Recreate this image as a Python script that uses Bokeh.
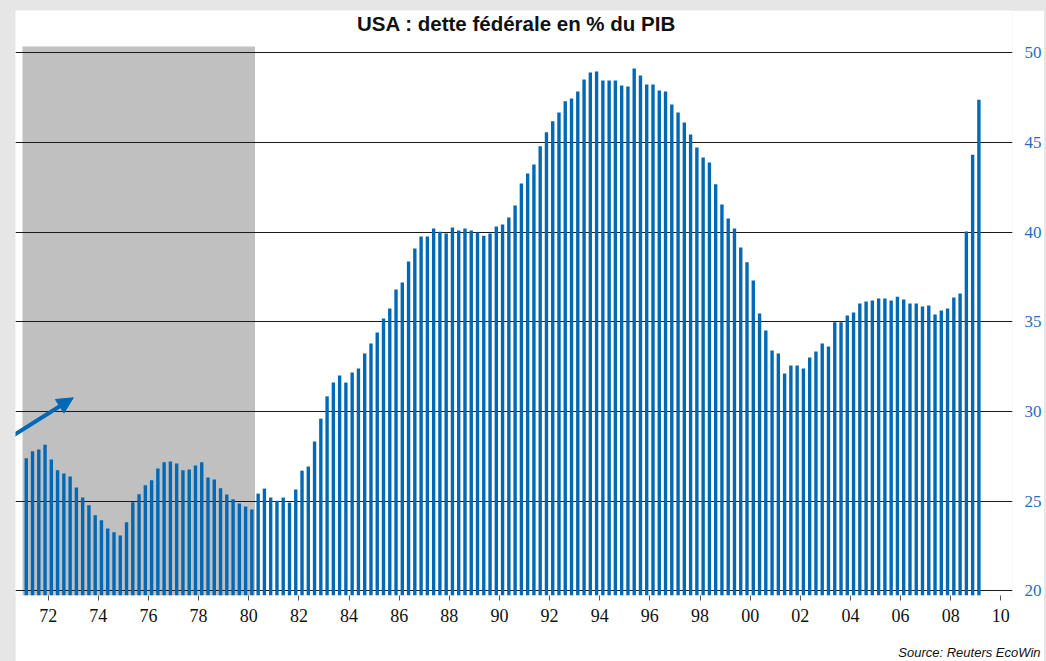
from bokeh.plotting import figure
from bokeh.models import (FixedTicker, Arrow, NormalHead, BoxAnnotation, Title, Label,
                          GlobalInlineStyleSheet, Range1d)
from bokeh.embed import file_html
from bokeh.resources import INLINE

# ---------------- data (quarterly, 1971Q1 .. 2009Q1) ----------------
start_year = 1971
debt_pct = [
    27.39, 27.78, 27.88, 28.15, 27.32, 26.72, 26.54, 26.37,   # 1971-72
    25.76, 25.20, 24.77, 24.21, 23.93, 23.48, 23.26, 23.09,   # 1973-74
    23.82, 24.94, 25.38, 25.88, 26.17, 26.82, 27.17, 27.21,   # 1975-76
    27.10, 26.72, 26.76, 26.98, 27.17, 26.32, 26.21, 25.72,   # 1977-78
    25.37, 25.11, 24.87, 24.70, 24.53, 25.42, 25.70, 25.20,   # 1979-80
    25.02, 25.20, 24.92, 25.65, 26.70, 26.93, 28.32, 29.60,   # 1981-82
    30.84, 31.61, 32.00, 31.61, 32.17, 32.39, 33.23, 33.79,   # 1983-84
    34.40, 35.18, 35.74, 36.80, 37.19, 38.36, 39.08, 39.75,   # 1985-86
    39.75, 40.20, 40.01, 39.92, 40.25, 40.08, 40.20, 40.08,   # 1987-88
    39.97, 39.80, 39.92, 40.31, 40.42, 40.81, 41.48, 42.71,   # 1989-90
    43.27, 43.77, 44.78, 45.56, 46.17, 46.67, 47.29, 47.45,   # 1991-92
    47.84, 48.51, 48.89, 48.95, 48.45, 48.45, 48.45, 48.17,   # 1993-94
    48.11, 49.11, 48.72, 48.22, 48.22, 47.89, 47.84, 47.11,   # 1995-96
    46.67, 46.11, 45.44, 44.72, 44.16, 43.88, 42.66, 41.54,   # 1997-98
    40.76, 40.20, 39.14, 38.31, 37.30, 35.46, 34.51, 33.40,   # 1999-00
    33.23, 32.12, 32.56, 32.56, 32.39, 33.01, 33.34, 33.79,   # 2001-02
    33.62, 34.97, 34.97, 35.35, 35.51, 36.02, 36.13, 36.18,   # 2003-04
    36.30, 36.30, 36.18, 36.40, 36.24, 36.02, 36.02, 35.85,   # 2005-06
    35.91, 35.40, 35.62, 35.74, 36.35, 36.57, 40.03, 44.31,   # 2007-08
    47.38,                                                    # 2009Q1
]
tick_years = list(range(1972, 2011, 2))
tick_labels = ["72", "74", "76", "78", "80", "82", "84", "86", "88", "90",
               "92", "94", "96", "98", "00", "02", "04", "06", "08", "10"]
y_ticks = [20, 25, 30, 35, 40, 45, 50]
shade_start, shade_end, shade_top = 1970.975, 1980.25, 50.34
title_text = "USA : dette fédérale en % du PIB"
source_text = "Source: Reuters EcoWin"

BLUE = "#0068b5"
AXIS_BLUE = "#1e6fc0"

# quarter mid-points in decimal years
x_pos = [start_year + i // 4 + ((i % 4) + 0.5) / 4 for i in range(len(debt_pct))]

p = figure(
    frame_width=997, frame_height=585,
    min_border_left=0, min_border_right=30, min_border_top=0, min_border_bottom=66,
    x_range=Range1d(1970.696, 2010.465), y_range=Range1d(19.74, 52.35),
    y_axis_location="right", output_backend="svg", toolbar_location=None,
    background_fill_color="white", border_fill_color="white",
)
p.outline_line_color = None
p.stylesheets = [GlobalInlineStyleSheet(
    css="html, body { background-color: #e6e6e6; overflow: hidden; margin: 0 !important; } "
        "body { padding: 10px 0px 0px 15px !important; }")]

# grey shaded period
p.add_layout(BoxAnnotation(left=shade_start, right=shade_end, top=shade_top,
                           fill_color="#c0c0c0", fill_alpha=1.0, line_color=None,
                           level="image"))

p.vbar(x=x_pos, top=debt_pct, bottom=0, width=0.135, color=BLUE, line_color=None)

# grid
p.xgrid.visible = False
p.ygrid.ticker = FixedTicker(ticks=y_ticks)
p.ygrid.grid_line_color = "#1a1a1a"
p.ygrid.grid_line_width = 1

# x axis
xa = p.xaxis[0]
xa.ticker = FixedTicker(ticks=tick_years)
xa.major_label_overrides = {yr: lb for yr, lb in zip(tick_years, tick_labels)}
xa.axis_line_color = None
xa.major_tick_in = 0
xa.major_tick_out = 5
xa.major_tick_line_color = "#555555"
xa.minor_tick_line_color = None
xa.major_label_text_font = "Liberation Serif"
xa.major_label_text_font_size = "18px"
xa.major_label_text_color = "#111111"
xa.major_label_standoff = 8

# y axis (right)
ya = p.yaxis[0]
ya.ticker = FixedTicker(ticks=y_ticks)
ya.axis_line_color = None
ya.major_tick_line_color = None
ya.minor_tick_line_color = None
ya.major_label_text_font = "Liberation Serif"
ya.major_label_text_font_size = "17px"
ya.major_label_text_color = AXIS_BLUE
ya.major_label_standoff = 6

# title (inside the white top band of the frame)
p.add_layout(Label(x=1990.68, y=51.65, text=title_text, text_align="center",
                   text_baseline="middle", text_font="Liberation Sans",
                   text_font_style="bold", text_font_size="20.5px",
                   text_color="#111111"))

# source (below the axis)
p.add_layout(Title(text=source_text, align="right", text_font="Liberation Sans",
                   text_font_style="italic", text_font_size="13px",
                   text_color="#111111", offset=-28, standoff=37), "below")

# arrow
p.add_layout(Arrow(end=NormalHead(size=16, fill_color=BLUE, line_color=BLUE),
                   x_start=1970.60, y_start=28.66, x_end=1973.0, y_end=30.76,
                   line_color=BLUE, line_width=4))

open("out.html", "w").write(file_html(p, INLINE))
